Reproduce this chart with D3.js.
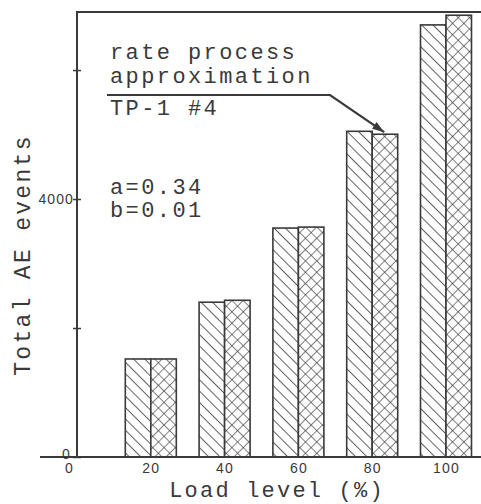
<!DOCTYPE html>
<html>
<head>
<meta charset="utf-8">
<script src="https://cdn.jsdelivr.net/npm/d3@7"></script>
<style>
  body { margin: 0; background: #fff; }
  svg { display: block; }
</style>
</head>
<body>
<div id="chart"></div>
<script>
// data
let loadLevels = [20, 40, 60, 80, 100];
let measured = [1520, 2400, 3550, 5050, 6700];
let rateProcess = [1520, 2430, 3565, 5005, 6850];
let yTicks = [0, 2000, 4000, 6000];
let yTickLabels = ['0', '', '4000', ''];

let svgWidth = 481;
let svgHeight = 504;
let ink = '#3a3a3a';
let mono = "'Liberation Mono', 'DejaVu Sans Mono', monospace";
let sans = "'Liberation Sans', Arial, sans-serif";

let svg = d3.select('#chart').append('svg')
  .attr('width', svgWidth)
  .attr('height', svgHeight);

// hatch patterns
let defs = svg.append('defs');
let diag = defs.append('pattern')
  .attr('id', 'diag')
  .attr('patternUnits', 'userSpaceOnUse')
  .attr('width', 8).attr('height', 8)
  .attr('patternTransform', 'rotate(-45)');
diag.append('rect').attr('width', 8).attr('height', 8).attr('fill', '#fff');
diag.append('line')
  .attr('x1', 0).attr('y1', 0).attr('x2', 0).attr('y2', 8)
  .attr('stroke', ink).attr('stroke-width', 1.6);

let cross = defs.append('pattern')
  .attr('id', 'cross')
  .attr('patternUnits', 'userSpaceOnUse')
  .attr('width', 8).attr('height', 8)
  .attr('patternTransform', 'rotate(45)');
cross.append('rect').attr('width', 8).attr('height', 8).attr('fill', '#fff');
cross.append('line')
  .attr('x1', 0).attr('y1', 0).attr('x2', 0).attr('y2', 8)
  .attr('stroke', ink).attr('stroke-width', 1.3);
cross.append('line')
  .attr('x1', 0).attr('y1', 0).attr('x2', 8).attr('y2', 0)
  .attr('stroke', ink).attr('stroke-width', 1.3);

// scales
let x = d3.scaleLinear().domain([0, 100]).range([77, 446]);
let y = d3.scaleLinear().domain([0, 6900]).range([457, 12]);
let barW = 25.5;

// frame: left axis and top border
svg.append('path')
  .attr('d', `M${x(0)},${y(0)} V${y(6900)} H${svgWidth + 2}`)
  .attr('fill', 'none').attr('stroke', ink).attr('stroke-width', 2);

// bars
let groups = svg.selectAll('.pair')
  .data(loadLevels)
  .enter()
  .append('g')
  .classed('pair', true);

groups.append('rect')
  .attr('x', d => x(d) - barW)
  .attr('y', (d, i) => y(measured[i]))
  .attr('width', barW)
  .attr('height', (d, i) => y(0) - y(measured[i]))
  .attr('fill', 'url(#diag)')
  .attr('stroke', ink).attr('stroke-width', 1.6);

groups.append('rect')
  .attr('x', d => x(d))
  .attr('y', (d, i) => y(rateProcess[i]))
  .attr('width', barW)
  .attr('height', (d, i) => y(0) - y(rateProcess[i]))
  .attr('fill', 'url(#cross)')
  .attr('stroke', ink).attr('stroke-width', 1.6);

// x baseline
svg.append('line')
  .attr('x1', 40).attr('x2', svgWidth)
  .attr('y1', y(0)).attr('y2', y(0))
  .attr('stroke', ink).attr('stroke-width', 2.2);

// y ticks (cross the axis)
let yAxis = d3.axisLeft(y)
  .tickValues(yTicks)
  .tickSizeInner(-4)
  .tickSizeOuter(0)
  .tickFormat((d, i) => yTickLabels[i]);
let yAxisG = svg.append('g')
  .attr('transform', `translate(${x(0)},0)`)
  .call(yAxis);
yAxisG.select('.domain').remove();
yAxisG.selectAll('.tick line').attr('x1', -4).attr('x2', 4)
  .attr('stroke', ink).attr('stroke-width', 1.5);
yAxisG.selectAll('.tick text')
  .attr('x', -3)
  .attr('font-family', sans)
  .attr('font-size', 14)
  .attr('letter-spacing', 1.1)
  .attr('fill', ink);
yAxisG.selectAll('.tick').filter(d => d === 0)
  .select('text').attr('x', -6).attr('dy', '0.1em');

// x tick labels
let xAxis = d3.axisBottom(x)
  .tickValues([0].concat(loadLevels))
  .tickSize(0)
  .tickPadding(6);
let xAxisG = svg.append('g')
  .attr('transform', `translate(0,${y(0)})`)
  .call(xAxis);
xAxisG.select('.domain').remove();
xAxisG.selectAll('.tick text')
  .attr('font-family', sans)
  .attr('font-size', 14)
  .attr('letter-spacing', 1.2)
  .attr('fill', ink);
xAxisG.selectAll('.tick').filter(d => d === 0)
  .select('text').attr('dx', -8);

// axis titles
svg.append('text')
  .attr('transform', `translate(30, 255) rotate(-90)`)
  .attr('text-anchor', 'middle')
  .attr('font-family', mono)
  .attr('font-size', 23)
  .attr('letter-spacing', 2.3)
  .attr('fill', ink)
  .text('Total AE events');

svg.append('text')
  .attr('x', 277).attr('y', 497)
  .attr('text-anchor', 'middle')
  .attr('font-family', mono)
  .attr('font-size', 22)
  .attr('letter-spacing', 2.2)
  .attr('fill', ink)
  .text('Load level (%)');

// annotation text
let notes = [
  { t: 'rate process', y: 59 },
  { t: 'approximation', y: 83 },
  { t: 'TP-1 #4', y: 115 },
  { t: 'a=0.34', y: 194 },
  { t: 'b=0.01', y: 217 }
];
svg.selectAll('.note')
  .data(notes)
  .enter()
  .append('text')
  .classed('note', true)
  .attr('x', 110)
  .attr('y', d => d.y)
  .attr('font-family', mono)
  .attr('font-size', 22)
  .attr('letter-spacing', 2.4)
  .attr('fill', ink)
  .text(d => d.t);

// leader line with arrow to the 80% rate-process bar
let tipX = x(80) + 12;
let tipY = y(rateProcess[3]) - 2;
svg.append('path')
  .attr('d', `M107,95 H330 L${tipX},${tipY}`)
  .attr('fill', 'none').attr('stroke', ink).attr('stroke-width', 2.2);
let ang = Math.atan2(tipY - 95, tipX - 330);
let hl = 12, hw = 4;
let bx = tipX - hl * Math.cos(ang), by = tipY - hl * Math.sin(ang);
svg.append('path')
  .attr('d', `M${tipX},${tipY} L${bx - hw * Math.sin(ang)},${by + hw * Math.cos(ang)} L${bx + hw * Math.sin(ang)},${by - hw * Math.cos(ang)} Z`)
  .attr('fill', ink);
</script>
</body>
</html>
